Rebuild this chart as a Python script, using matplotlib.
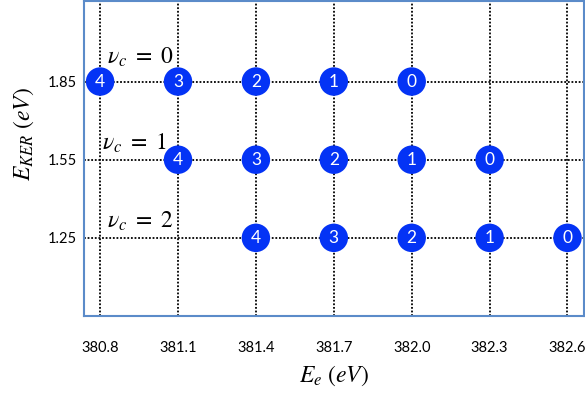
import matplotlib.pyplot as plt
import numpy as np

plt.rcParams['mathtext.fontset'] = 'stix'

# vibrational progressions: electron energy vs KER
x_ticks = [380.8, 381.1, 381.4, 381.7, 382.0, 382.3, 382.6]
y_ticks = [1.25, 1.55, 1.85]

nu0_x = [380.8, 381.1, 381.4, 381.7, 382.0]
nu1_x = [381.1, 381.4, 381.7, 382.0, 382.3]
nu2_x = [381.4, 381.7, 382.0, 382.3, 382.6]
row_y = [1.85, 1.55, 1.25]
labels = ['4', '3', '2', '1', '0']
nu_names = [r'$\nu_c\ =\ 0$', r'$\nu_c\ =\ 1$', r'$\nu_c\ =\ 2$']

fig = plt.figure(figsize=(5.85, 3.96), dpi=100)
ax = fig.add_axes([0.1436, 0.202, 0.854, 0.796])

ax.set_xlim(380.738, 382.662)
ax.set_ylim(0.95, 2.16)
ax.set_xticks(x_ticks)
ax.set_xticklabels(['%.1f' % v for v in x_ticks], family='Lato')
ax.set_yticks(y_ticks)
ax.set_yticklabels(['%.2f' % v for v in y_ticks], family='Lato')
ax.tick_params(length=0, labelsize=10.5)
ax.tick_params(axis='x', pad=18)
ax.tick_params(axis='y', pad=5)
ax.grid(True, color='black', ls=(0, (1, 1)), lw=1.3)
ax.set_axisbelow(True)

for s in ax.spines.values():
    s.set_color('#5b8bc9')
    s.set_linewidth(1.5)

rows = [nu0_x, nu1_x, nu2_x]
for xs, y in zip(rows, row_y):
    ys = np.full(len(xs), y)
    ax.scatter(xs, ys, s=420, color='#0433f5', zorder=3, edgecolors='none')
    for xv, lab in zip(xs, labels):
        ax.text(xv, y, lab, color='white', ha='center', va='center',
                fontsize=12.5, family='Lato', zorder=4)

# progression labels
ax.text(380.827, 1.919, nu_names[0], fontsize=17, ha='left', va='baseline')
ax.text(380.808, 1.588, nu_names[1], fontsize=17, ha='left', va='baseline')
ax.text(380.827, 1.288, nu_names[2], fontsize=17, ha='left', va='baseline')

ax.set_xlabel(r'$E_e\ (eV)$', fontsize=17, labelpad=6)
ax.set_ylabel(r'$E_{KER}\ (eV)$', fontsize=17, va='center')
ax.yaxis.set_label_coords(-0.12, 0.579)

plt.savefig('out.png', dpi=100)
